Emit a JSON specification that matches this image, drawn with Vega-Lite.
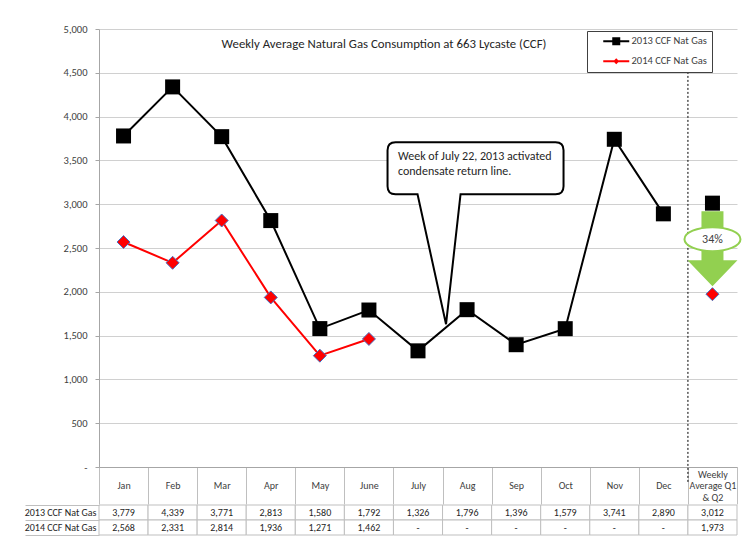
{
  "$schema": "https://vega.github.io/schema/vega-lite/v6.json",
  "background": "white",
  "padding": {"left": 24, "top": 24, "right": 13, "bottom": 2},
  "config": {"font": "Carlito, Lato, sans-serif", "view": {"stroke": null}},
  "spacing": -5,
  "datasets": {
    "gas": [
      {"month": "Jan", "series": "2013 CCF Nat Gas", "value": 3779},
      {"month": "Feb", "series": "2013 CCF Nat Gas", "value": 4339},
      {"month": "Mar", "series": "2013 CCF Nat Gas", "value": 3771},
      {"month": "Apr", "series": "2013 CCF Nat Gas", "value": 2813},
      {"month": "May", "series": "2013 CCF Nat Gas", "value": 1580},
      {"month": "June", "series": "2013 CCF Nat Gas", "value": 1792},
      {"month": "July", "series": "2013 CCF Nat Gas", "value": 1326},
      {"month": "Aug", "series": "2013 CCF Nat Gas", "value": 1796},
      {"month": "Sep", "series": "2013 CCF Nat Gas", "value": 1396},
      {"month": "Oct", "series": "2013 CCF Nat Gas", "value": 1579},
      {"month": "Nov", "series": "2013 CCF Nat Gas", "value": 3741},
      {"month": "Dec", "series": "2013 CCF Nat Gas", "value": 2890},
      {"month": "Weekly Average Q1 & Q2", "series": "2013 CCF Nat Gas", "value": 3012},
      {"month": "Jan", "series": "2014 CCF Nat Gas", "value": 2568},
      {"month": "Feb", "series": "2014 CCF Nat Gas", "value": 2331},
      {"month": "Mar", "series": "2014 CCF Nat Gas", "value": 2814},
      {"month": "Apr", "series": "2014 CCF Nat Gas", "value": 1936},
      {"month": "May", "series": "2014 CCF Nat Gas", "value": 1271},
      {"month": "June", "series": "2014 CCF Nat Gas", "value": 1462},
      {"month": "July", "series": "2014 CCF Nat Gas", "value": null},
      {"month": "Aug", "series": "2014 CCF Nat Gas", "value": null},
      {"month": "Sep", "series": "2014 CCF Nat Gas", "value": null},
      {"month": "Oct", "series": "2014 CCF Nat Gas", "value": null},
      {"month": "Nov", "series": "2014 CCF Nat Gas", "value": null},
      {"month": "Dec", "series": "2014 CCF Nat Gas", "value": null},
      {"month": "Weekly Average Q1 & Q2", "series": "2014 CCF Nat Gas", "value": 1973}
    ]
  },
  "vconcat": [
    {
      "width": 638,
      "height": 438,
      "data": {"name": "gas"},
      "title": {"text": "Weekly Average Natural Gas Consumption at 663 Lycaste (CCF)", "fontSize": 12.8, "fontWeight": "normal", "color": "#262626", "offset": -27, "dx": -34, "anchor": "middle"},
      "encoding": {
        "x": {
          "field": "month", "type": "nominal", "sort": null,
          "scale": {"type": "band", "domain": ["Jan", "Feb", "Mar", "Apr", "May", "June", "July", "Aug", "Sep", "Oct", "Nov", "Dec", "Weekly Average Q1 & Q2"], "paddingInner": 0, "paddingOuter": 0},
          "axis": {"title": null, "orient": "bottom", "tickBand": "extent", "tickSize": 37, "tickColor": "#bfbfbf", "domainColor": "#a6a6a6", "labelPadding": -30, "labelBaseline": "middle", "labelAngle": 0, "labelFontSize": 10, "labelColor": "#404040", "labelLineHeight": 11.5, "labelLimit": 0, "labelOverlap": false, "grid": false, "labelExpr": "datum.value === 'Weekly Average Q1 & Q2' ? ['Weekly', 'Average Q1', '& Q2'] : ['', datum.label, '']"}
        },
        "y": {
          "field": "value", "type": "quantitative",
          "scale": {"domain": [0, 5000], "nice": false},
          "axis": {"title": null, "values": [0, 500, 1000, 1500, 2000, 2500, 3000, 3500, 4000, 4500, 5000], "format": ",.0f", "labelExpr": "datum.value === 0 ? '-' : datum.label", "labelFontSize": 10.5, "labelColor": "#404040", "tickSize": 4, "tickColor": "#a6a6a6", "domainColor": "#a6a6a6", "gridColor": "#d0d0d0", "labelPadding": 8, "grid": true}
        }
      },
      "layer": [
        {
          "transform": [{"filter": "datum.month === 'Weekly Average Q1 & Q2' && datum.series === '2013 CCF Nat Gas'"}],
          "mark": {"type": "rule", "strokeDash": [2, 2], "color": "#000000", "strokeWidth": 1},
          "encoding": {
            "x": {"field": "month", "type": "nominal", "sort": null, "bandPosition": 0},
            "y": {"datum": 4830},
            "y2": {"datum": -170}
          }
        },
        {
          "transform": [{"filter": "datum.month === 'Weekly Average Q1 & Q2' && datum.series === '2013 CCF Nat Gas'"}],
          "mark": {"type": "point", "shape": "M-11,8H11V57H25L0,83L-25,57H-11Z", "size": 4, "fill": "#92D050", "strokeWidth": 0, "opacity": 1, "filled": true}
        },
        {
          "transform": [{"filter": "datum.month === 'Weekly Average Q1 & Q2' && datum.series === '2013 CCF Nat Gas'"}],
          "mark": {"type": "point", "shape": "M-28,36A28,12 0 1,0 28,36A28,12 0 1,0 -28,36Z", "size": 4, "fill": "#ffffff", "stroke": "#92D050", "strokeWidth": 2, "opacity": 1}
        },
        {
          "transform": [{"filter": "datum.month === 'Weekly Average Q1 & Q2' && datum.series === '2013 CCF Nat Gas'"}],
          "mark": {"type": "text", "text": "34%", "fontSize": 12, "color": "#404040", "dy": 36, "align": "center", "baseline": "middle"}
        },
        {
          "transform": [{"filter": "datum.month !== 'Weekly Average Q1 & Q2'"}],
          "mark": {"type": "line", "strokeWidth": 2},
          "encoding": {
            "order": {"value": null},
            "color": {
              "field": "series", "type": "nominal",
              "scale": {"domain": ["2013 CCF Nat Gas", "2014 CCF Nat Gas"], "range": ["#000000", "#FF0000"]},
              "legend": {
                "title": null, "orient": "none", "legendX": 488, "legendY": 2,
                "strokeColor": "#404040", "fillColor": "#ffffff", "padding": 5,
                "labelFontSize": 10.5, "labelColor": "#404040", "labelOffset": 29,
                "symbolSize": 100, "symbolStrokeWidth": 0, "rowPadding": 9,
                "encode": {"symbols": {"update": {"opacity": {"value": 1}, "fillOpacity": {"value": 1}, "strokeWidth": {"value": 0}}}}
              }
            }
          }
        },
        {
          "transform": [{"filter": "datum.series === '2013 CCF Nat Gas' && datum.value != null"}],
          "mark": {"type": "point", "shape": "square", "size": 225, "filled": true, "fill": "#000000", "strokeWidth": 0, "opacity": 1}
        },
        {
          "transform": [{"filter": "datum.series === '2014 CCF Nat Gas' && datum.value != null"}],
          "mark": {"type": "point", "shape": "diamond", "size": 169, "filled": true, "fill": "#FF0000", "stroke": "#4472C4", "strokeWidth": 1, "opacity": 1}
        },
        {
          "transform": [{"filter": "datum.value != null"}],
          "mark": {"type": "point", "size": 100, "filled": true, "strokeWidth": 0, "opacity": 0},
          "encoding": {
            "color": {
              "field": "series", "type": "nominal",
              "legend": {
                "title": null, "orient": "none", "legendX": 488, "legendY": 2,
                "strokeColor": "#404040", "fillColor": "#ffffff", "padding": 5,
                "labelFontSize": 10.5, "labelColor": "#404040", "labelOffset": 29,
                "symbolSize": 100, "symbolStrokeWidth": 0, "rowPadding": 9,
                "encode": {"symbols": {"update": {"opacity": {"value": 1}, "fillOpacity": {"value": 1}, "strokeWidth": {"value": 0}}}}
              }
            },
            "shape": {
              "field": "series", "type": "nominal",
              "scale": {"domain": ["2013 CCF Nat Gas", "2014 CCF Nat Gas"], "range": ["M1.2,-0.2H6.4V0.2H1.2Z M3,-0.8H4.6V0.8H3Z", "M1.2,-0.2H6.4V0.2H1.2Z M3.8,-0.6L4.4,0L3.8,0.6L3.2,0Z"]},
              "legend": {
                "title": null, "orient": "none", "legendX": 488, "legendY": 2,
                "strokeColor": "#404040", "fillColor": "#ffffff", "padding": 5,
                "labelFontSize": 10.5, "labelColor": "#404040", "labelOffset": 29,
                "symbolSize": 100, "symbolStrokeWidth": 0, "rowPadding": 9,
                "encode": {"symbols": {"update": {"opacity": {"value": 1}, "fillOpacity": {"value": 1}, "strokeWidth": {"value": 0}}}}
              }
            }
          }
        },
        {
          "transform": [{"filter": "datum.month === 'July' && datum.series === '2013 CCF Nat Gas'"}],
          "mark": {"type": "point", "shape": "M-47,-182H113Q121,-182 121,-174V-138Q121,-130 113,-130H18L3.5,0L-25,-130H-47Q-55,-130 -55,-138V-174Q-55,-182 -47,-182Z", "size": 4, "fill": "#ffffff", "stroke": "#000000", "strokeWidth": 2, "opacity": 1},
          "encoding": {
            "x": {"field": "month", "type": "nominal", "sort": null, "bandPosition": 1},
            "y": {"datum": 1630}
          }
        },
        {
          "transform": [{"filter": "datum.month === 'July' && datum.series === '2013 CCF Nat Gas'"}],
          "mark": {"type": "text", "text": ["Week of July 22, 2013 activated", "condensate return line."], "fontSize": 12, "color": "#262626", "align": "left", "baseline": "middle", "lineHeight": 15, "dx": -20},
          "encoding": {
            "y": {"datum": 3550}
          }
        }
      ]
    },
    {
      "width": 638,
      "height": 30,
      "data": {"name": "gas"},
      "encoding": {
        "x": {"field": "month", "type": "nominal", "sort": null, "scale": {"type": "band", "domain": ["Jan", "Feb", "Mar", "Apr", "May", "June", "July", "Aug", "Sep", "Oct", "Nov", "Dec", "Weekly Average Q1 & Q2"], "paddingInner": 0, "paddingOuter": 0}, "axis": null},
        "y": {"field": "series", "type": "nominal", "sort": null, "scale": {"type": "band", "domain": ["2013 CCF Nat Gas", "2014 CCF Nat Gas"], "paddingInner": 0, "paddingOuter": 0},
          "axis": {"title": null, "tickBand": "extent", "tickSize": 74, "tickColor": "#bfbfbf", "domain": false, "labelAlign": "right", "labelBaseline": "middle", "labelPadding": -71, "labelFontSize": 10, "labelColor": "#262626", "labelLimit": 0}}
      },
      "layer": [
        {"mark": {"type": "rect", "fill": "#ffffff", "stroke": "#bfbfbf", "strokeWidth": 1}},
        {
          "mark": {"type": "text", "fontSize": 10, "color": "#262626"},
          "encoding": {"text": {"condition": {"test": "datum.value === null", "value": "-"}, "field": "value", "type": "quantitative", "format": ","}}
        }
      ]
    }
  ]
}
